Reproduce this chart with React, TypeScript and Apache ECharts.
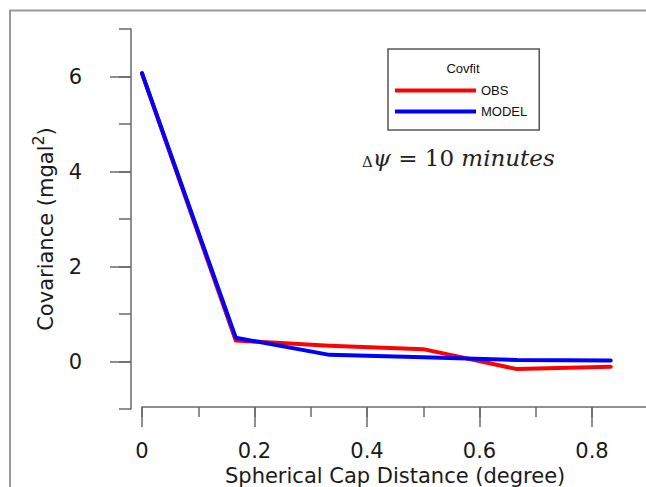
import React, { useEffect, useRef } from "react";
import * as echarts from "echarts";

const distances = [0, 0.1667, 0.3333, 0.5, 0.6667, 0.8333];
const obsValues = [6.06, 0.44, 0.33, 0.26, -0.16, -0.11];
const modelValues = [6.07, 0.5, 0.14, 0.09, 0.03, 0.02];
const xTickValues = [0, 0.2, 0.4, 0.6, 0.8];
const yTickValues = [0, 2, 4, 6];
const seriesNames = ["OBS", "MODEL"];
const legendTitle = "Covfit";
const xTitle = "Spherical Cap Distance (degree)";

const FONT = "Liberation Sans";
const AXIS_FONT = "DejaVu Sans";
const AXIS_COLOR = "#6a6a6a";

export default function App() {
  const ref = useRef<HTMLDivElement>(null);
  useEffect(() => {
    if (!ref.current) return;
    const chart = echarts.init(ref.current, null, { renderer: "svg" });
    const obsData = distances.map((x, i) => [x, obsValues[i]]);
    const modelData = distances.map((x, i) => [x, modelValues[i]]);
    chart.setOption({
      animation: false,
      backgroundColor: "#fff",
      grid: {
        left: 142,
        top: 29,
        width: 506.25,
        height: 380,
        containLabel: false,
        outerBoundsMode: "none",
      },
      xAxis: [
        {
          type: "value",
          position: "bottom",
          min: 0,
          max: 0.9,
          offset: -2,
          splitLine: { show: false },
          axisLine: { show: true, onZero: false, lineStyle: { color: AXIS_COLOR, width: 1.5 } },
          axisTick: {
            show: true,
            customValues: xTickValues,
            length: 20,
            lineStyle: { color: AXIS_COLOR, width: 1.5 },
          },
          axisLabel: {
            customValues: xTickValues,
            margin: 33,
            fontFamily: AXIS_FONT,
            fontSize: 21,
            color: "#1a1a1a",
          },
          name: xTitle,
          nameLocation: "middle",
          nameGap: 54,
          nameTextStyle: { fontFamily: AXIS_FONT, fontSize: 21, color: "#1a1a1a" },
        },
        {
          type: "value",
          position: "bottom",
          min: 0,
          max: 0.9,
          interval: 0.1,
          offset: -2,
          splitLine: { show: false },
          axisLine: { show: false, onZero: false },
          axisTick: { show: true, length: 10, lineStyle: { color: AXIS_COLOR, width: 1.5 } },
          axisLabel: { show: false },
        },
      ],
      yAxis: [
        {
          type: "value",
          position: "left",
          min: -1,
          max: 7,
          offset: 11,
          splitLine: { show: false },
          axisLine: { show: true, onZero: false, lineStyle: { color: AXIS_COLOR, width: 1.5 } },
          axisTick: {
            show: true,
            customValues: yTickValues,
            length: 21,
            lineStyle: { color: AXIS_COLOR, width: 1.5 },
          },
          axisLabel: {
            customValues: yTickValues,
            margin: 49,
            fontFamily: AXIS_FONT,
            fontSize: 21,
            color: "#1a1a1a",
          },
          name: "{a|Covariance (mgal}{s|2}{a|)}",
          nameLocation: "middle",
          nameRotate: 90,
          nameGap: 75,
          nameTextStyle: {
            padding: [0, 20, 0, 0],
            rich: {
              a: { fontFamily: AXIS_FONT, fontSize: 21, color: "#1a1a1a", lineHeight: 26, verticalAlign: "bottom" },
              s: { fontFamily: AXIS_FONT, fontSize: 16, color: "#1a1a1a", lineHeight: 26, verticalAlign: "top" },
            },
          },
        },
        {
          type: "value",
          position: "left",
          min: -1,
          max: 7,
          interval: 1,
          offset: 11,
          splitLine: { show: false },
          axisLine: { show: false, onZero: false },
          axisTick: { show: true, length: 12, lineStyle: { color: AXIS_COLOR, width: 1.5 } },
          axisLabel: { show: false },
        },
      ],
      legend: {
        orient: "vertical",
        left: 388,
        top: 49,
        data: seriesNames,
        icon: "rect",
        itemWidth: 81,
        itemHeight: 4,
        itemGap: 8,
        padding: [35, 12, 12, 7],
        borderColor: "#555",
        borderWidth: 1.5,
        textStyle: { fontFamily: FONT, fontSize: 13, color: "#111" },
      },
      graphic: [
        {
          type: "rect",
          silent: true,
          z: -10,
          shape: { x: 10, y: 10.5, width: 1000, height: 1000 },
          style: { fill: "none", stroke: "#9a9a9a", lineWidth: 2 },
        },
        {
          type: "text",
          x: 463,
          y: 68,
          style: {
            text: legendTitle,
            fontFamily: FONT,
            fontSize: 13,
            fill: "#111",
            align: "center",
            verticalAlign: "middle",
          },
        },
        {
          type: "text",
          x: 362,
          y: 155,
          style: {
            text: "{d|Δ}{i|ψ}{u| = 10 }{i|minutes}",
            verticalAlign: "middle",
            rich: {
              d: { fontFamily: "DejaVu Serif", fontSize: 15, fill: "#222", verticalAlign: "bottom", lineHeight: 28 },
              i: { fontFamily: "DejaVu Serif", fontStyle: "italic", fontSize: 23, fill: "#222", verticalAlign: "bottom", lineHeight: 28 },
              u: { fontFamily: "DejaVu Serif", fontSize: 23, fill: "#222", verticalAlign: "bottom", lineHeight: 28 },
            },
          },
        },
      ],
      series: [
        {
          name: seriesNames[0],
          type: "line",
          xAxisIndex: 0,
          yAxisIndex: 0,
          data: obsData,
          showSymbol: false,
          symbol: "none",
          lineStyle: { color: "#ff0000", width: 4, join: "round", cap: "round" },
          itemStyle: { color: "#ff0000" },
        },
        {
          name: seriesNames[1],
          type: "line",
          xAxisIndex: 0,
          yAxisIndex: 0,
          data: modelData,
          showSymbol: false,
          symbol: "none",
          lineStyle: { color: "#0000ff", width: 4, join: "round", cap: "round" },
          itemStyle: { color: "#0000ff" },
        },
      ],
    });
    return () => chart.dispose();
  }, []);
  return (
    <div
      ref={ref}
      style={{ position: "fixed", left: 0, top: 0, width: 646, height: 487 }}
    />
  );
}
